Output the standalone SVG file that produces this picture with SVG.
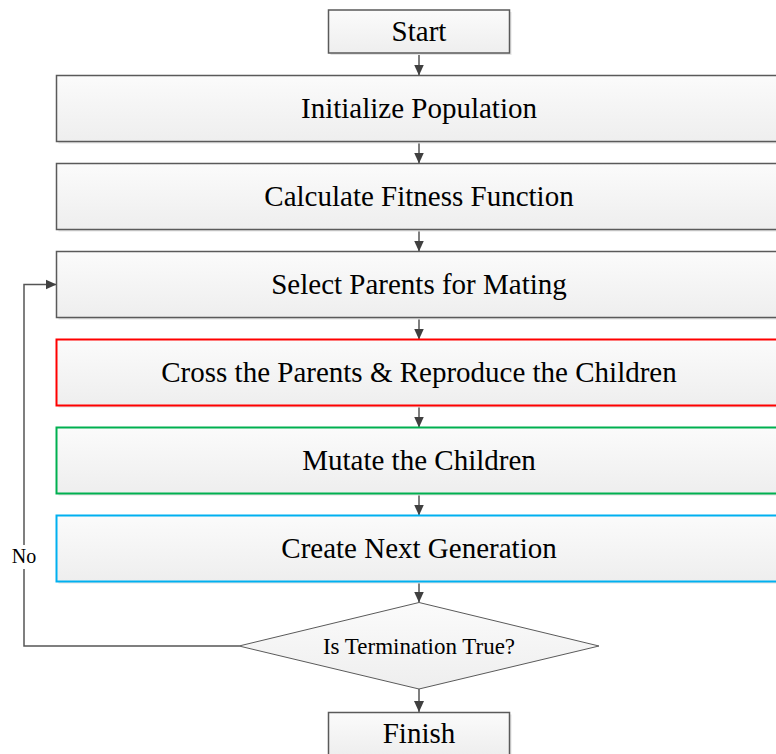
<svg xmlns="http://www.w3.org/2000/svg" width="776" height="754" viewBox="0 0 776 754">
<defs>
<linearGradient id="g" x1="0" y1="0" x2="0" y2="1">
<stop offset="0" stop-color="#fbfbfb"/>
<stop offset="1" stop-color="#eeeeee"/>
</linearGradient>
<marker id="arr" markerUnits="userSpaceOnUse" markerWidth="12" markerHeight="12" viewBox="0 0 12 12" refX="11" refY="6" orient="auto">
<path d="M0,1 L11,6 L0,11 Z" fill="#404040"/>
</marker>
<style>
.sh{fill:#e4e4e4;}
.box{fill:url(#g);stroke:#5a5a5a;stroke-width:1.5;}
.red{stroke:#ff0000;stroke-width:2;}
.green{stroke:#00b050;stroke-width:2;}
.blue{stroke:#00b0f0;stroke-width:2;}
.t{font-family:"Liberation Serif","Times New Roman",serif;font-size:29px;fill:#000;text-anchor:middle;}
.ts{font-family:"Liberation Serif","Times New Roman",serif;font-size:23px;fill:#000;text-anchor:middle;}
.tn{font-family:"Liberation Serif","Times New Roman",serif;font-size:20px;fill:#000;text-anchor:middle;}
.c{fill:none;stroke:#555;stroke-width:1.5;}
</style>
</defs>
<g id="connectors">
<line class="c" x1="419" y1="53" x2="419" y2="75.5" marker-end="url(#arr)"/>
<line class="c" x1="419" y1="141.5" x2="419" y2="163.5" marker-end="url(#arr)"/>
<line class="c" x1="419" y1="229.5" x2="419" y2="251.5" marker-end="url(#arr)"/>
<line class="c" x1="419" y1="317.5" x2="419" y2="339.5" marker-end="url(#arr)"/>
<line class="c" x1="419" y1="405.5" x2="419" y2="427.5" marker-end="url(#arr)"/>
<line class="c" x1="419" y1="493.5" x2="419" y2="515.5" marker-end="url(#arr)"/>
<line class="c" x1="419" y1="581.5" x2="419" y2="602.5" marker-end="url(#arr)"/>
<line class="c" x1="419" y1="689" x2="419" y2="712" marker-end="url(#arr)"/>
<polyline class="c" points="239,646 24,646 24,284.5 56.5,284.5" marker-end="url(#arr)"/>
<rect x="8" y="545" width="32" height="24" fill="#ffffff"/>
<text class="tn" x="24" y="563">No</text>
</g>
<g id="start">
<rect class="sh" x="330.5" y="12" width="181" height="43"/>
<rect class="box" x="328.5" y="10" width="181" height="43"/>
<text class="t" x="419" y="40.5">Start</text>
</g>
<g id="initialize">
<rect class="sh" x="58.5" y="77.5" width="730" height="66"/>
<rect class="box" x="56.5" y="75.5" width="730" height="66"/>
<text class="t" x="419" y="118">Initialize Population</text>
</g>
<g id="fitness">
<rect class="sh" x="58.5" y="165.5" width="730" height="66"/>
<rect class="box" x="56.5" y="163.5" width="730" height="66"/>
<text class="t" x="419" y="206">Calculate Fitness Function</text>
</g>
<g id="select">
<rect class="sh" x="58.5" y="253.5" width="730" height="66"/>
<rect class="box" x="56.5" y="251.5" width="730" height="66"/>
<text class="t" x="419" y="294">Select Parents for Mating</text>
</g>
<g id="cross">
<rect class="sh" x="58.5" y="341.5" width="730" height="66"/>
<rect class="box red" x="56.5" y="339.5" width="730" height="66"/>
<text class="t" x="419" y="382">Cross the Parents &amp; Reproduce the Children</text>
</g>
<g id="mutate">
<rect class="sh" x="58.5" y="429.5" width="730" height="66"/>
<rect class="box green" x="56.5" y="427.5" width="730" height="66"/>
<text class="t" x="419" y="470">Mutate the Children</text>
</g>
<g id="nextgen">
<rect class="sh" x="58.5" y="517.5" width="730" height="66"/>
<rect class="box blue" x="56.5" y="515.5" width="730" height="66"/>
<text class="t" x="419" y="558">Create Next Generation</text>
</g>
<g id="termination">
<polygon class="box" points="419,602.5 599,646 419,689 239,646" style="stroke-width:1"/>
<text class="ts" x="419" y="654">Is Termination True?</text>
</g>
<g id="finish">
<rect class="sh" x="330.5" y="714.5" width="181" height="43"/>
<rect class="box" x="328.5" y="712.5" width="181" height="43"/>
<text class="t" x="419" y="743">Finish</text>
</g>
</svg>
